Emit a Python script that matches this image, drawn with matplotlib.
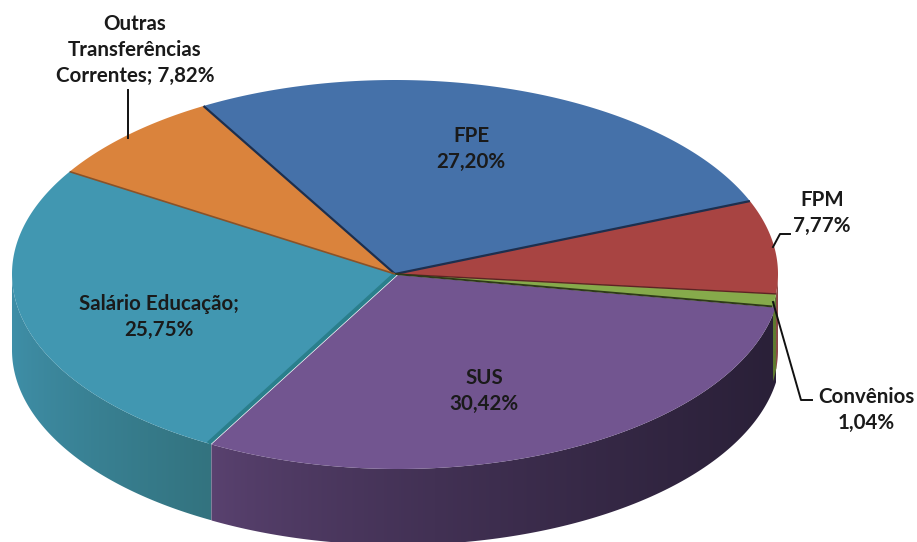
#!/usr/bin/env python3
"""Pizza 3D das transferencias: desenhada em coordenadas de pixel da figura."""

import numpy as np
import matplotlib
matplotlib.use('Agg')
import matplotlib.pyplot as plt
from matplotlib.colors import to_rgb
from matplotlib.patches import Polygon

# dados (horario, a partir da fatia FPE)
categorias = ['FPE', 'FPM', 'Convênios', 'SUS', 'Salário Educação', 'Outras Transferências Correntes']
valores = [27.20, 7.77, 1.04, 30.42, 25.75, 7.82]
rotulos = ['FPE\n27,20%', 'FPM\n7,77%', 'Convênios\n1,04%', 'SUS\n30,42%',
           'Salário Educação;\n25,75%', 'Outras\nTransferências\nCorrentes; 7,82%']

# estilo
cor_topo = ['#4571a9', '#a84442', '#86aa4b', '#725590', '#4197b1', '#da833c']
cor_lado_esq = ['#2c4a70', '#8a4a48', '#5f7a30', '#5a4270', '#3f8fa8', '#a8642c']
cor_lado_dir = ['#2c4a70', '#8a4a48', '#5f7a30', '#2a2038', '#33737f', '#a8642c']
cor_borda = ['#1d2f4e', '#1d2f4e', '#5c2423', '#2e3a18', '#2a7f8c', '#8a5228']
larg_borda = [1.6, 1.6, 1.0, 1.4, 3.0, 1.2]
desloc = [(0, 0), (0, 0), (0, 0), (3, 1), (0, 0), (0, 0)]
pos_rotulos = [(471, 149), (822, 213), (866, 410), (484, 391), (159, 317), (135, 50)]

ANGULO_INICIAL = 120.0
CX, CY = 395, 274
RX, RY = 383, 194
ALTURA = 76
W, H = 917, 542


def arco(a0, a1, n=200):
    t = np.radians(np.linspace(a0, a1, n))
    return RX * np.cos(t), -RY * np.sin(t)


fig = plt.figure(figsize=(W / 100, H / 100), dpi=100)
ax = fig.add_axes([0, 0, 1, 1])

limites = ANGULO_INICIAL - np.cumsum([0] + valores) * 3.6
ordem = range(len(valores) - 1, -1, -1)

# parede lateral: gradiente horizontal recortado, so a parte da frente do arco
for n_ordem, i in enumerate(ordem):
    a0, a1 = limites[i], limites[i + 1]
    ini, fim = min(a0 + 0.5, 0), max(a1, -180)
    if a0 > -180 and a1 < 0 and ini > fim:
        dx, dy = desloc[i]
        x, y = arco(fim, ini, 160)
        x, y = x + CX + dx, y + CY + dy
        xs = np.r_[x, x[::-1]]
        ys = np.r_[y, y[::-1] + ALTURA]
        c0, c1 = np.array(to_rgb(cor_lado_esq[i])), np.array(to_rgb(cor_lado_dir[i]))
        f = np.linspace(0, 1, 256)[None, :, None] ** 0.75
        img = ax.imshow(c0 + (c1 - c0) * f, aspect='auto', zorder=1 + n_ordem * 0.01,
                        interpolation='bilinear',
                        extent=[x.min(), x.max(), ys.max(), ys.min()])
        img.set_clip_path(Polygon(np.c_[xs, ys], transform=ax.transData))

ax.set_xlim(0, W)
ax.set_ylim(H, 0)
ax.axis('off')

# topo
for i in ordem:
    dx, dy = desloc[i]
    x, y = arco(limites[i + 1], limites[i])
    ax.fill(np.r_[CX + dx, x + CX + dx], np.r_[CY + dy, y + CY + dy],
            color=cor_topo[i], lw=0, zorder=2)

# linhas entre as fatias
for i in range(len(valores)):
    x, y = arco(limites[i], limites[i], 1)
    ax.plot([CX, x[0] + CX], [CY, y[0] + CY],
            color=cor_borda[i], lw=larg_borda[i], zorder=3, solid_capstyle='butt')

# linhas de chamada
ax.plot([128, 128], [90, 138], color='#111111', lw=1.4, zorder=4)
ax.plot([773, 780, 790], [247, 234, 234], color='#111111', lw=1.4, zorder=4)
ax.plot([773, 801, 812], [302, 400, 400], color='#111111', lw=1.4, zorder=4)

for txt, (px, py) in zip(rotulos, pos_rotulos):
    ax.text(px, py, txt, ha='center', va='center', family=['Lato', 'DejaVu Sans'],
            fontweight='bold', fontsize=14.8, color='#1a1a1a', linespacing=1.38, zorder=5)

fig.savefig('out.png', dpi=100, facecolor='white')
